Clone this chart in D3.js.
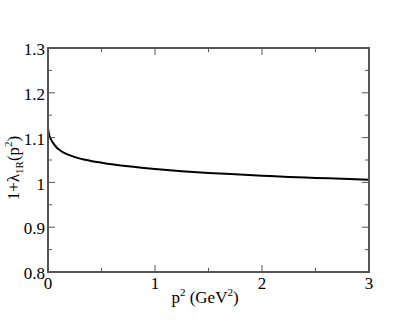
<!DOCTYPE html>
<html><head><meta charset="utf-8">
<script src="https://cdn.jsdelivr.net/npm/d3@7"></script>
<style>body{margin:0;background:#fff}svg{display:block}</style>
</head><body><svg id="c" width="415" height="321"></svg>
<script>
const pSq = [0, 0.005, 0.01, 0.02, 0.03, 0.045, 0.06, 0.08, 0.1, 0.15, 0.2, 0.3, 0.4, 0.5, 0.75, 1.0, 1.25, 1.5, 1.75, 2.0, 2.25, 2.5, 2.75, 3.0];
const lam = [1.121, 1.113, 1.107, 1.100, 1.095, 1.089, 1.084, 1.078, 1.074, 1.066, 1.061, 1.053, 1.048, 1.044, 1.036, 1.030, 1.025, 1.021, 1.018, 1.015, 1.012, 1.010, 1.008, 1.006];
const xTicks = [0, 1, 2, 3];
const xMinor = [0.5, 1.5, 2.5];
const yTicks = [0.8, 0.9, 1.0, 1.1, 1.2, 1.3];
const yMinor = [0.85, 0.95, 1.05, 1.15, 1.25];

const FONT = "Liberation Serif";
const svg = d3.select("#c");
const L = 48, R = 369, T = 48, B = 272;
const x = d3.scaleLinear().domain([0, 3]).range([L, R]);
const y = d3.scaleLinear().domain([0.8, 1.3]).range([B, T]);
const axisCol = "#555";

svg.append("path")
  .datum(pSq.map((p, i) => [p, lam[i]]))
  .attr("fill", "none").attr("stroke", "#000").attr("stroke-width", 2)
  .attr("d", d3.line().x(d => x(d[0])).y(d => y(d[1])).curve(d3.curveMonotoneX));

const g = svg.append("g").attr("stroke", axisCol).attr("stroke-width", 1);
xTicks.forEach(v => {
  g.append("line").attr("x1", x(v)).attr("x2", x(v)).attr("y1", B).attr("y2", B - 7);
  g.append("line").attr("x1", x(v)).attr("x2", x(v)).attr("y1", T).attr("y2", T + 7);
});
xMinor.forEach(v => {
  g.append("line").attr("x1", x(v)).attr("x2", x(v)).attr("y1", B).attr("y2", B - 4);
  g.append("line").attr("x1", x(v)).attr("x2", x(v)).attr("y1", T).attr("y2", T + 4);
});
yTicks.forEach(v => {
  g.append("line").attr("y1", y(v)).attr("y2", y(v)).attr("x1", L).attr("x2", L + 7);
  g.append("line").attr("y1", y(v)).attr("y2", y(v)).attr("x1", R).attr("x2", R - 7);
});
yMinor.forEach(v => {
  g.append("line").attr("y1", y(v)).attr("y2", y(v)).attr("x1", L).attr("x2", L + 4);
  g.append("line").attr("y1", y(v)).attr("y2", y(v)).attr("x1", R).attr("x2", R - 4);
});

svg.append("rect").attr("x", L).attr("y", T).attr("width", R - L).attr("height", B - T)
  .attr("fill", "none").attr("stroke", axisCol).attr("stroke-width", 2);

const fmtY = d => (d === 1 ? "1" : d3.format(".1f")(d));
svg.append("g").selectAll("text").data(yTicks).join("text")
  .style("font-family", FONT).style("font-size", "17px")
  .attr("x", L - 3).attr("y", d => y(d)).attr("dy", "0.42em")
  .attr("text-anchor", "end").text(fmtY);
svg.append("g").selectAll("text").data(xTicks).join("text")
  .style("font-family", FONT).style("font-size", "17px")
  .attr("x", d => x(d)).attr("y", B + 17)
  .attr("text-anchor", "middle").text(d => d);

const xt = svg.append("text").attr("x", 205).attr("y", 303)
  .style("font-family", FONT).style("font-size", "17px")
  .attr("text-anchor", "middle");
xt.append("tspan").text("p");
xt.append("tspan").style("font-size", "11px").attr("dy", -7).text("2");
xt.append("tspan").attr("dy", 7).text(" (GeV");
xt.append("tspan").style("font-size", "11px").attr("dy", -7).text("2");
xt.append("tspan").attr("dy", 7).text(")");

const yt = svg.append("text").attr("transform", "translate(19,168) rotate(-90)")
  .style("font-family", FONT).style("font-size", "17px")
  .attr("text-anchor", "middle");
yt.append("tspan").text("1+λ");
yt.append("tspan").style("font-size", "11px").attr("dy", 4).text("1R");
yt.append("tspan").attr("dy", -4).text("(p");
yt.append("tspan").style("font-size", "11px").attr("dy", -7).text("2");
yt.append("tspan").attr("dy", 7).text(")");
</script></body></html>
